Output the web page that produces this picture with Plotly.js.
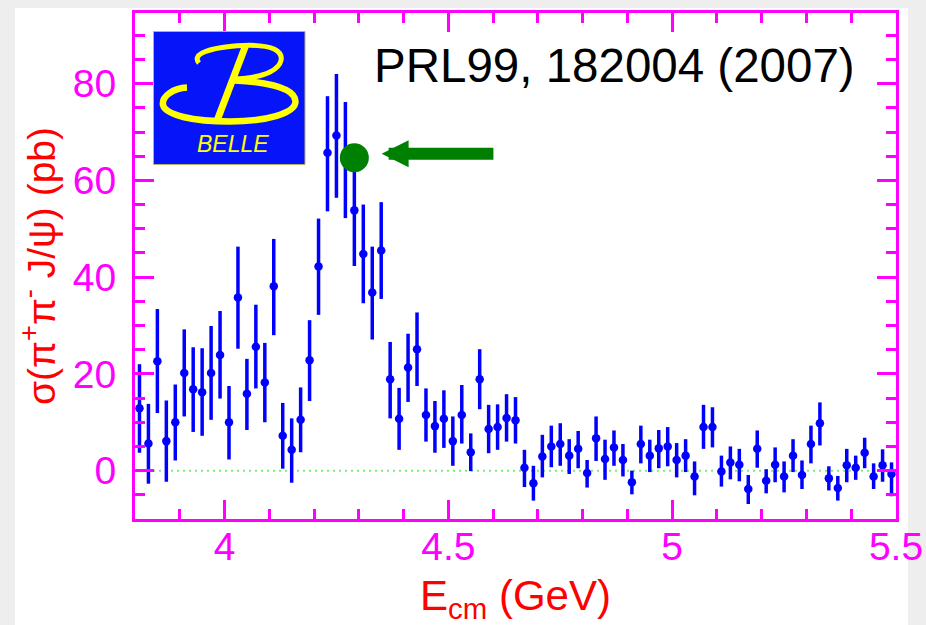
<!DOCTYPE html>
<html>
<head>
<meta charset="utf-8">
<script src="https://cdn.plot.ly/plotly-3.0.1.min.js"></script>
<style>
html,body{margin:0;padding:0;background:#eeeeee;}
#chart{width:926px;height:625px;}
</style>
</head>
<body>
<div id="chart"></div>
<script>
// ---- data ----
const energyGeV = [3.81,3.83,3.85,3.87,3.89,3.91,3.93,3.95,3.97,3.99,
  4.01,4.03,4.05,4.07,4.09,4.11,4.13,4.15,4.17,4.19,
  4.21,4.23,4.25,4.27,4.29,4.31,4.33,4.35,4.37,4.39,
  4.41,4.43,4.45,4.47,4.49,4.51,4.53,4.55,4.57,4.59,
  4.61,4.63,4.65,4.67,4.69,4.71,4.73,4.75,4.77,4.79,
  4.81,4.83,4.85,4.87,4.89,4.91,4.93,4.95,4.97,4.99,
  5.01,5.03,5.05,5.07,5.09,5.11,5.13,5.15,5.17,5.19,
  5.21,5.23,5.25,5.27,5.29,5.31,5.33,5.35,5.37,5.39,
  5.41,5.43,5.45,5.47,5.49];
const sigmaPb = [12.9,5.6,22.6,6.1,10.0,20.2,16.8,16.2,20.2,23.9,
  10.0,35.8,15.9,25.6,18.2,38.1,7.2,4.3,10.5,22.8,
  42.2,65.7,69.3,64.2,53.8,44.8,36.8,45.5,18.9,10.7,
  21.3,25.1,11.5,9.2,10.7,6.1,11.5,3.8,18.9,8.6,
  9.0,10.9,10.4,0.6,-2.6,2.9,5.0,5.5,3.1,4.5,
  -0.5,6.7,2.4,4.8,2.2,-2.4,5.5,3.1,4.6,5.0,
  2.2,3.1,-1.2,9.0,9.0,-0.2,1.7,1.2,-3.8,4.5,
  -2.1,1.2,-1.2,3.1,-0.9,5.5,9.8,-1.6,-3.6,1.1,
  0.6,3.7,-1.2,1.1,-0.7];
const errUp = [9.1,8.2,10.8,8.4,7.8,9.0,8.7,9.1,9.7,9.1,
  7.5,10.5,7.2,8.7,8.2,9.8,6.8,6.5,6.7,8.3,
  9.9,11.7,12.7,12.0,11.5,10.2,9.5,10.0,7.7,6.4,
  7.0,7.6,5.5,5.2,5.9,5.1,6.2,3.9,6.2,5.0,
  4.7,4.9,4.8,3.7,3.6,4.5,4.3,4.3,3.4,3.7,
  2.7,4.5,4.0,3.5,3.3,2.4,3.8,3.3,3.8,4.0,
  3.5,3.4,3.1,4.6,4.1,3.3,3.3,3.3,2.9,3.8,
  2.4,3.6,3.1,3.4,3.0,3.8,4.3,2.5,2.5,3.4,
  2.5,3.1,2.7,3.3,2.4];
const errDown = [9.2,8.3,10.7,8.4,7.9,9.0,8.8,9.0,9.7,9.0,
  7.7,10.6,7.5,8.6,8.2,10.1,6.8,6.8,6.7,8.4,
  10.0,12.1,12.9,12.0,11.5,10.2,9.7,10.0,8.1,6.4,
  7.1,7.6,5.5,5.5,6.0,5.1,5.9,3.9,6.2,5.0,
  4.7,4.9,4.8,4.0,3.6,4.3,4.3,4.5,3.8,4.0,
  3.0,4.7,4.3,3.8,3.4,2.5,4.0,3.4,4.1,4.1,
  3.6,3.4,3.9,4.5,4.2,3.1,3.5,3.4,3.1,3.9,
  2.6,3.6,3.3,3.4,2.9,4.0,4.6,2.5,2.6,3.5,
  2.5,3.2,2.6,3.4,4.6];
const highlightX = [4.29];
const highlightY = [64.7];
const xTickVals = [4, 4.5, 5, 5.5];
const xTickText = ['4', '4.5', '5', '5.5'];
const yTickVals = [0, 20, 40, 60, 80];
const yTickText = ['0', '20', '40', '60', '80'];

// ---- styling ----
const MAG = '#ff00ff';
const RED = '#ff0000';
const BLUE = '#0000ff';
const GREEN = '#008000';
const FONT = 'Liberation Sans, Arial, sans-serif';

// pixel -> paper helpers (for the decorative logo only)
const PL = 135, PT = 13, PW = 761, PH = 506;
const px = x => ((x - PL) / PW).toFixed(4);
const py = y => ((PT + PH - y) / PH).toFixed(4);
function pth(segs) {
  return segs.map(s => s[0] + (s.length > 1 ? ' ' : '') +
    s.slice(1).map((v, i) => (i % 2 === 0 ? px(v) : py(v))).join(' ')).join(' ');
}

const data = [
  {
    type: 'scatter', mode: 'markers',
    x: energyGeV, y: sigmaPb,
    marker: {color: BLUE, size: 8.5},
    error_y: {type: 'data', symmetric: false, array: errUp, arrayminus: errDown,
      color: BLUE, thickness: 3.5, width: 0},
    hoverinfo: 'skip'
  },
  {
    type: 'scatter', mode: 'markers',
    x: highlightX, y: highlightY,
    marker: {color: GREEN, size: 29},
    hoverinfo: 'skip'
  }
];

const shapes = [
  // white slide panel behind the chart
  {type: 'rect', xref: 'paper', yref: 'paper', layer: 'below',
   x0: px(15), x1: px(908), y0: py(626), y1: py(8),
   fillcolor: '#ffffff', line: {width: 0}},
  // dotted zero line
  {type: 'line', xref: 'paper', yref: 'y', x0: 0, x1: 1, y0: 0, y1: 0, layer: 'below',
   line: {color: '#77ee77', width: 2, dash: '2px,4px'}},
  // Belle logo box
  {type: 'rect', xref: 'paper', yref: 'paper', layer: 'above',
   x0: px(153.5), x1: px(305), y0: py(164.5), y1: py(31.5),
   fillcolor: '#0614fa', line: {color: '#b8b860', width: 1}},
  // upper bowl of the B
  {type: 'path', xref: 'paper', yref: 'paper', layer: 'above',
   path: pth([['M', 199, 63], ['C', 192, 55, 206, 50, 222, 47.5], ['C', 240, 45, 262, 44, 274, 49], ['C', 286, 55, 282, 66, 270, 72], ['C', 260, 77, 246, 78.5, 233, 79]]),
   line: {color: '#ffff00', width: 5}},
  // lower bowl of the B
  {type: 'path', xref: 'paper', yref: 'paper', layer: 'above',
   path: pth([['M', 187, 87.5], ['C', 174, 88, 161.5, 96, 163, 105], ['C', 165, 115, 193, 121.5, 230, 121.5], ['C', 267, 121.5, 295.5, 113, 295.5, 101.5], ['C', 295.5, 89.5, 273, 82.5, 235, 80.5]]),
   line: {color: '#ffff00', width: 6.5}},
  // stem of the B
  {type: 'path', xref: 'paper', yref: 'paper', layer: 'above',
   path: pth([['M', 245.5, 46], ['L', 216.5, 122]]),
   line: {color: '#ffff00', width: 7}}
];

const annotations = [
  {xref: 'paper', yref: 'paper', x: px(233), y: py(144), text: 'BELLE', showarrow: false,
   xanchor: 'center', yanchor: 'middle',
   font: {family: FONT, size: 23, style: 'italic', color: '#ffff00'}},
  {xref: 'paper', yref: 'paper', x: px(615), y: py(66), text: 'PRL99, 182004 (2007)', showarrow: false,
   xanchor: 'center', yanchor: 'middle',
   font: {family: FONT, size: 47.5, color: '#000000'}},
  {xref: 'x', yref: 'y', axref: 'x', ayref: 'y',
   x: 4.351, y: 65.5, ax: 4.604, ay: 65.5, text: '', showarrow: true,
   arrowhead: 2, arrowsize: 0.45, arrowwidth: 12, arrowcolor: GREEN, standoff: 0}
];

const axisCommon = {
  ticks: 'inside', ticklen: 19, tickwidth: 3, tickcolor: MAG,
  showline: true, linecolor: MAG, linewidth: 3, mirror: 'ticks',
  showgrid: false, zeroline: false,
  tickfont: {family: FONT, size: 39, color: MAG}
};

const layout = {
  width: 926, height: 625,
  margin: {l: PL, r: 926 - PL - PW, t: PT, b: 625 - PT - PH, pad: 0},
  paper_bgcolor: '#eeeeee', plot_bgcolor: '#ffffff',
  showlegend: false,
  xaxis: Object.assign({}, axisCommon, {
    range: [3.8, 5.5], tickmode: 'array', tickvals: xTickVals, ticktext: xTickText,
    minor: {tick0: 3.8, dtick: 0.1, ticks: 'inside', ticklen: 10, tickwidth: 3, tickcolor: MAG},
    ticklabelstandoff: -9,
    title: {text: 'E<sub>cm</sub> (GeV)', font: {family: FONT, size: 42, color: RED}, standoff: 20}
  }),
  yaxis: Object.assign({}, axisCommon, {
    range: [-10, 94.6], tickmode: 'array', tickvals: yTickVals, ticktext: yTickText,
    minor: {tick0: 0, dtick: 5, ticks: 'inside', ticklen: 10, tickwidth: 3, tickcolor: MAG},
    ticklabelstandoff: 8,
    title: {text: 'σ(π<sup>+</sup>π<sup>-</sup> J/ψ) (pb)', font: {family: FONT, size: 39, color: RED}, standoff: 6}
  }),
  shapes: shapes,
  annotations: annotations
};

Plotly.newPlot('chart', data, layout, {displayModeBar: false, staticPlot: true});
</script>
</body>
</html>
